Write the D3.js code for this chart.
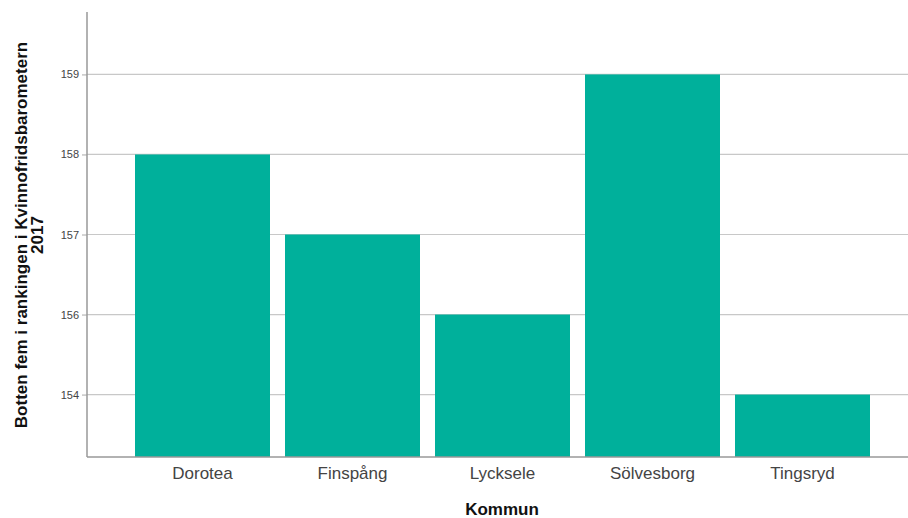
<!DOCTYPE html>
<html><head><meta charset="utf-8">
<script src="https://cdn.jsdelivr.net/npm/d3@7"></script>
<style>body{margin:0;background:#fff}svg{display:block}</style>
</head><body>
<svg id="c" width="908" height="518"></svg>
<script>
const categories = ["Dorotea","Finspång","Lycksele","Sölvesborg","Tingsryd"];
const values = [158,157,156,159,154];
const yTickLabels = ["154","156","157","158","159"];

const svg = d3.select("#c");
const W = 908, H = 518;
const left = 87, baseY = 457, topY = 12;
const FONT = "Arial, 'Liberation Sans', sans-serif";

const x = d3.scaleBand().domain(categories).range([left, 918]).paddingInner(0.1).paddingOuter(0.32);
const y = d3.scalePoint().domain(yTickLabels).range([baseY, topY]).padding(0.78);

// gridlines
svg.append("g").selectAll("line").data(yTickLabels).join("line")
  .attr("x1", left).attr("x2", W).attr("y1", d=>y(d)).attr("y2", d=>y(d))
  .attr("stroke", "#c8c8c8").attr("stroke-width", 1.2);

// bars
svg.append("g").selectAll("rect").data(categories).join("rect")
  .attr("x", d=>x(d)).attr("width", x.bandwidth())
  .attr("y", (d,i)=>y(String(values[i])))
  .attr("height", (d,i)=>baseY - y(String(values[i])))
  .attr("fill", "#00b09b");

// y axis
const ya = svg.append("g").attr("transform", `translate(${left},0)`)
  .call(d3.axisLeft(y).tickSize(5).tickPadding(3));
ya.select(".domain").remove();
ya.selectAll(".tick line").attr("stroke", "#aaa");
ya.selectAll(".tick text").attr("fill", "#444").style("font-family", FONT).style("font-size", "11px");
svg.append("line").attr("x1", left).attr("x2", left).attr("y1", topY).attr("y2", baseY)
  .attr("stroke", "#999").attr("stroke-width", 1.5);

// x axis
const xa = svg.append("g").attr("transform", `translate(0,${baseY})`)
  .call(d3.axisBottom(x).tickSize(0).tickPadding(10));
xa.select(".domain").remove();
xa.selectAll(".tick text").attr("fill", "#444").style("font-family", FONT).style("font-size", "17px");
svg.append("line").attr("x1", left).attr("x2", W).attr("y1", baseY).attr("y2", baseY)
  .attr("stroke", "#999").attr("stroke-width", 1.5);

// axis titles
svg.append("text").attr("x", 502).attr("y", 515).attr("text-anchor", "middle")
  .style("font-family", FONT).style("font-size", "17px").style("font-weight", "bold")
  .attr("fill", "#111").text("Kommun");

const yt = svg.append("text").attr("transform", "translate(27,235) rotate(-90)").attr("text-anchor", "middle")
  .style("font-family", FONT).style("font-size", "17px").style("font-weight", "bold").attr("fill", "#111");
yt.append("tspan").attr("x", 0).attr("dy", 0).text("Botten fem i rankingen i Kvinnofridsbarometern");
yt.append("tspan").attr("x", 0).attr("dy", 16).text("2017");
</script>
</body></html>
